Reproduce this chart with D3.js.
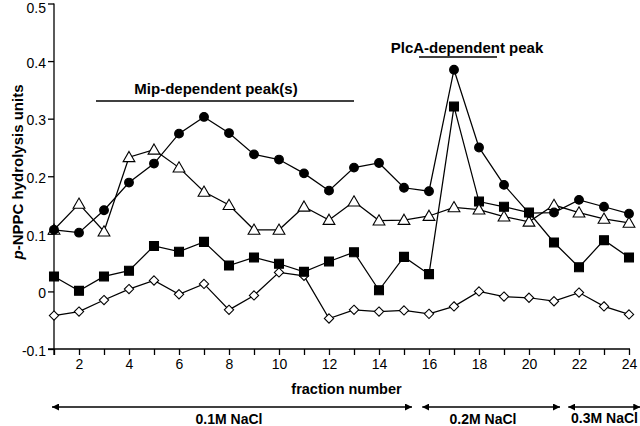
<!DOCTYPE html>
<html><head><meta charset="utf-8">
<script src="https://cdn.jsdelivr.net/npm/d3@7"></script>
<style>
html,body{margin:0;padding:0;background:#fff;}
svg{display:block;font-family:"Liberation Sans",Arial,Helvetica,sans-serif;}
</style></head>
<body><svg id="c" width="640" height="426"></svg>
<script>
const fractions = d3.range(1, 25);
const circles   = [0.107,0.102,0.141,0.189,0.222,0.274,0.303,0.275,0.238,0.229,0.205,0.175,0.215,0.223,0.180,0.174,0.385,0.250,0.185,0.136,0.137,0.159,0.147,0.135];
const triangles = [0.107,0.152,0.104,0.233,0.246,0.215,0.173,0.150,0.107,0.107,0.147,0.124,0.156,0.123,0.124,0.131,0.146,0.142,0.130,0.121,0.150,0.137,0.126,0.119];
const squares   = [0.026,0.001,0.026,0.036,0.079,0.069,0.086,0.045,0.059,0.048,0.034,0.052,0.068,0.002,0.060,0.030,0.321,0.156,0.147,0.137,0.085,0.042,0.089,0.059];
const diamonds  = [-0.042,-0.035,-0.015,0.004,0.019,-0.005,0.013,-0.032,-0.007,0.033,0.027,-0.047,-0.032,-0.035,-0.033,-0.039,-0.026,0.000,-0.009,-0.011,-0.017,-0.002,-0.026,-0.040];
const yTicks = [-0.1,0,0.1,0.2,0.3,0.4,0.5];
const xTickLabels = [2,4,6,8,10,12,14,16,18,20,22,24];
const peaks = [
  {label:"Mip-dependent peak(s)", from:2.68, to:13.0},
  {label:"PlcA-dependent peak", from:15.6, to:18.72}
];
const salts = [
  {label:"0.1M NaCl", from:0.92, to:15.32},
  {label:"0.2M NaCl", from:15.73, to:21.24},
  {label:"0.3M NaCl", from:21.57, to:24.45}
];

const svg = d3.select("#c");
const x = d3.scaleLinear().domain([1,24]).range([54,629]);
const y = d3.scaleLinear().domain([-0.1,0.5]).range([349,3.5]);

// axes
const yAxis = d3.axisLeft(y).tickValues(yTicks).tickSize(6).tickPadding(2)
  .tickFormat(d => d===0 ? "0" : d3.format(".1f")(d).replace("\u2212","-"));
const gy = svg.append("g").attr("transform",`translate(${x(1)},0)`).call(yAxis);
gy.select(".domain").attr("d",`M0,${y(0.5)}V${y(-0.1)+6}`);
gy.selectAll(".tick text").attr("dy",d => d===0.5 ? "0.62em" : "0.45em");
const xAxis = d3.axisBottom(x).tickValues(fractions).tickSize(6).tickPadding(4)
  .tickFormat(d => xTickLabels.includes(d) ? d : "");
const gx = svg.append("g").attr("transform",`translate(0,${y(-0.1)})`).call(xAxis);
gx.select(".domain").attr("d",`M${x(1)-6},0H${x(24)+1}`);
svg.selectAll(".domain, .tick line").attr("stroke","#000").attr("stroke-width",1.3);
svg.selectAll(".tick text").attr("font-size","14px").attr("fill","#000").attr("font-family","Liberation Sans, Arial, sans-serif");

// axis titles
svg.append("text").attr("x",(x(1)+x(24))/2+5).attr("y",394).attr("text-anchor","middle")
  .attr("font-size","14.5px").attr("font-weight","bold").text("fraction number");
const yt = svg.append("text").attr("transform","translate(23,172) rotate(-90)")
  .attr("text-anchor","middle").attr("font-size","15px").attr("font-weight","bold");
yt.append("tspan").attr("font-style","italic").text("p");
yt.append("tspan").text("-NPPC hydrolysis units");

// series
const line = d3.line().x((d,i)=>x(fractions[i])).y(d=>y(d));
const series = [
  {vals:diamonds, shape:d3.symbolDiamond2, size:55, fill:"#fff"},
  {vals:squares, shape:d3.symbolSquare, size:80, fill:"#000"},
  {vals:triangles, shape:d3.symbolTriangle, size:60, fill:"#fff"},
  {vals:circles, shape:d3.symbolCircle, size:60, fill:"#000"}
];
series.forEach(s=>{
  svg.append("path").attr("d",line(s.vals)).attr("fill","none").attr("stroke","#000").attr("stroke-width",1.25);
});
series.forEach(s=>{
  const sym = d3.symbol().type(s.shape).size(s.size);
  svg.append("g").selectAll("path").data(s.vals).join("path")
    .attr("transform",(d,i)=>`translate(${x(fractions[i])},${y(d)+(s.shape===d3.symbolTriangle?1:0)})`)
    .attr("d",sym).attr("fill",s.fill).attr("stroke","#000").attr("stroke-width",1.1);
});

// peak annotations
const peakY = [{ty:94, ly:101},{ty:53, ly:57}];
peaks.forEach((p,i)=>{
  svg.append("line").attr("x1",x(p.from)).attr("x2",x(p.to)).attr("y1",peakY[i].ly).attr("y2",peakY[i].ly)
    .attr("stroke","#000").attr("stroke-width",1.3);
});
svg.append("text").attr("x",216).attr("y",94).attr("text-anchor","middle").attr("font-size","15px").attr("font-weight","bold").text(peaks[0].label);
svg.append("text").attr("x",467).attr("y",53).attr("text-anchor","middle").attr("font-size","15px").attr("font-weight","bold").text(peaks[1].label);

// salt arrows
const defs = svg.append("defs");
defs.append("marker").attr("id","ah").attr("viewBox","0 0 10 10").attr("refX",10).attr("refY",5)
  .attr("markerWidth",7).attr("markerHeight",7).attr("markerUnits","userSpaceOnUse").attr("orient","auto-start-reverse")
  .append("path").attr("d","M0,0L10,5L0,10Z").attr("fill","#000");
salts.forEach((s,i)=>{
  svg.append("line").attr("x1",x(s.from)).attr("x2",x(s.to)).attr("y1",407).attr("y2",407)
    .attr("stroke","#000").attr("stroke-width",1.3)
    .attr("marker-start","url(#ah)").attr("marker-end","url(#ah)");
});
svg.append("text").attr("x",229).attr("y",424).attr("text-anchor","middle").attr("font-size","14px").attr("font-weight","bold").text(salts[0].label);
svg.append("text").attr("x",483).attr("y",424).attr("text-anchor","middle").attr("font-size","14px").attr("font-weight","bold").text(salts[1].label);
svg.append("text").attr("x",638).attr("y",423).attr("text-anchor","end").attr("font-size","14px").attr("font-weight","bold").text(salts[2].label);
</script></body></html>
